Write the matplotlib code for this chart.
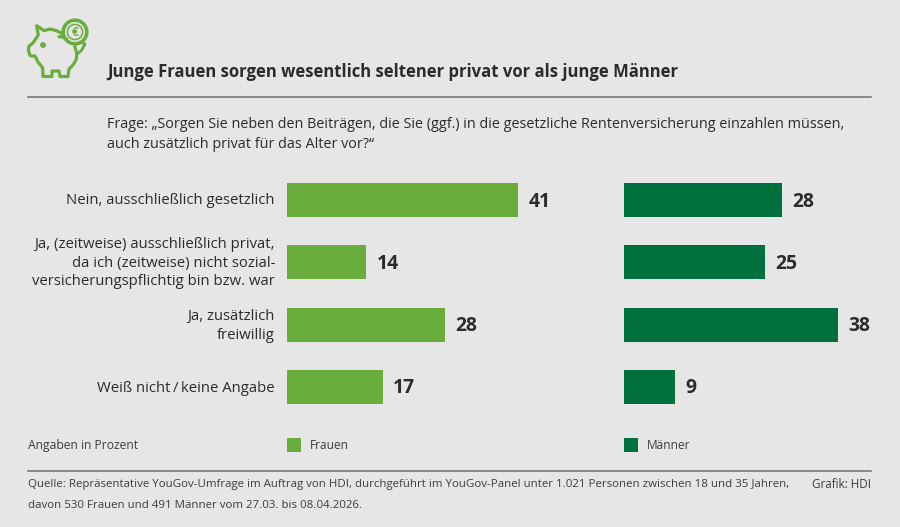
import matplotlib
matplotlib.use("Agg")
import matplotlib.pyplot as plt
from matplotlib.patches import Circle, Rectangle
from matplotlib.lines import Line2D

plt.rcParams["font.family"] = ["Open Sans", "DejaVu Sans"]

categories = [
    "Nein, ausschließlich gesetzlich",
    "Ja, (zeitweise) ausschließlich privat,\nda ich (zeitweise) nicht sozial-\nversicherungspflichtig bin bzw. war",
    "Ja, zusätzlich\nfreiwillig",
    "Weiß nicht\u2009/\u2009keine Angabe",
]
frauen = [41, 14, 28, 17]
maenner = [28, 25, 38, 9]

title = "Junge Frauen sorgen wesentlich seltener privat vor als junge Männer"
question = ("Frage: „Sorgen Sie neben den Beiträgen, die Sie (ggf.) in die gesetzliche "
            "Rentenversicherung einzahlen müssen,\nauch zusätzlich privat für das Alter vor?“")
unit_note = "Angaben in Prozent"
source_lines = [
    "Quelle: Repräsentative YouGov-Umfrage im Auftrag von HDI, durchgeführt im YouGov-Panel "
    "unter 1.021 Personen zwischen 18 und 35 Jahren,",
    "davon 530 Frauen und 491 Männer vom 27.03. bis 08.04.2026.",
]
credit = "Grafik: HDI"

W, H = 900, 527
BG = "#e6e6e6"
LIGHT = "#69ae3d"
DARK = "#00703c"
INK = "#2b2b2b"
SOFT_INK = "#3d3d3d"

fig = plt.figure(figsize=(W / 100, H / 100), dpi=100, facecolor=BG)

# Overlay in pixel coordinates for rules, text and the icon
page = fig.add_axes([0, 0, 1, 1], facecolor="none")
page.set_xlim(0, W)
page.set_ylim(H, 0)
page.axis("off")


def bar_panel(left, values, color):
    """Horizontal bar panel whose left edge sits at the given pixel column."""
    top, bottom = 169, 418
    span = 260
    ax = fig.add_axes([left / W, 1 - bottom / H, span / W, (bottom - top) / H], facecolor="none")
    ax.set_xlim(0, span / 5.63)
    ax.set_ylim(3.5, -0.5)
    ax.axis("off")
    ax.barh(range(len(values)), values, height=0.55, color=color)
    for i, v in enumerate(values):
        ax.annotate(str(v), (v, i), xytext=(7.6, -1.0), textcoords="offset points",
                    fontsize=13.9, fontweight="bold", color=INK, va="center", ha="left")
    return ax


bar_panel(287, frauen, LIGHT)
bar_panel(624, maenner, DARK)

# Header
page.text(107, 72, title, fontsize=11.98, fontweight="bold", color=INK, va="center", ha="left")
page.add_line(Line2D([28, 871], [96.5, 96.5], color="#6e6e6e", lw=1.1))
page.text(107, 134.5, question, fontsize=10.4, color=INK, va="center", ha="left", linespacing=1.42)

# Category labels, right-aligned against the bars
for y, label in zip([201, 263, 326, 388], categories):
    page.text(275, y, label, fontsize=10.72, color=INK, va="center", ha="right",
              linespacing=1.33, multialignment="right")

# Legend row
page.text(28, 445.5, unit_note, fontsize=8.7, color=SOFT_INK, va="center")
page.add_patch(Rectangle((287, 438), 14, 14, color=LIGHT, lw=0))
page.text(310, 445.5, "Frauen", fontsize=8.6, color=SOFT_INK, va="center")
page.add_patch(Rectangle((624, 438), 14, 14, color=DARK, lw=0))
page.text(647, 445.5, "Männer", fontsize=8.6, color=SOFT_INK, va="center")

# Footer
page.add_line(Line2D([28, 871], [471, 471], color="#6e6e6e", lw=1.1))
for y, line in zip([485, 505], source_lines):
    page.text(28, y, line, fontsize=8.28, color=SOFT_INK, va="center")
page.text(871, 485, credit, fontsize=8.36, color=SOFT_INK, va="center", ha="right")

# Piggy-bank icon with coin
lw = 2.3
pig_x = [61.7, 56, 50, 44, 36.7, 38.3, 33, 29, 28.3, 30, 32, 35, 38, 42.7, 43, 52, 52, 59,
         60, 68, 69, 73, 76, 77, 75]
pig_y = [33.3, 30.5, 29, 30.7, 25.7, 35, 43, 46, 50, 55.5, 56, 56, 62, 68, 76.5, 76.5, 71, 71,
         76.5, 76.5, 69, 65, 60, 54, 47]
page.add_line(Line2D(pig_x, pig_y, color=LIGHT, lw=lw, solid_joinstyle="round"))
page.add_line(Line2D([59, 62.5, 66.7], [36.7, 37, 39], color=LIGHT, lw=lw, solid_capstyle="round"))
page.add_line(Line2D([77, 81.5, 85, 83], [54, 50.5, 44, 43], color=LIGHT, lw=lw * 0.9))
page.add_patch(Circle((43, 45), 2.9, color=LIGHT, lw=0))
page.add_patch(Circle((75, 32), 11.8, fc=BG, ec=LIGHT, lw=2.6))
page.add_patch(Circle((75, 32), 7.6, fc="none", ec=LIGHT, lw=1.1))
page.text(75, 32, "€", fontsize=8.5, fontweight="bold", color=LIGHT, ha="center", va="center")

fig.savefig("out.png", dpi=100, facecolor=BG)
